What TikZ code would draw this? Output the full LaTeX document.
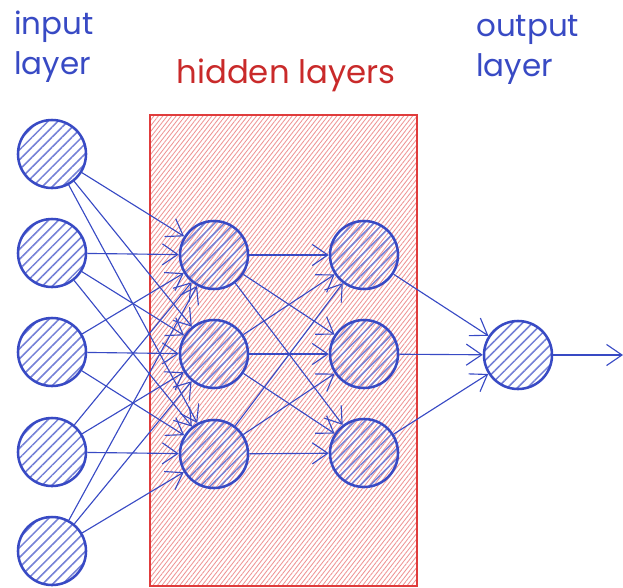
\documentclass[tikz,border=0pt]{standalone}
\usepackage{fontspec}
\setmainfont{Poppins}
\usetikzlibrary{arrows.meta, patterns.meta}

\definecolor{nnblue}{RGB}{56,74,196}
\definecolor{nnred}{RGB}{201,42,42}
\definecolor{boxred}{RGB}{224,60,60}

\begin{document}
\begin{tikzpicture}[
        x=0.025cm, y=-0.025cm,
        >={Straight Barb[length=11pt, width=15pt]},
        neuron/.style={circle, draw=nnblue, line width=1.8pt,
                minimum size=1.7cm, inner sep=0pt,
                pattern={Lines[angle=45, distance=5pt, line width=1.1pt]},
                pattern color=nnblue!70},
        link/.style={->, draw=nnblue, line width=0.8pt},
        caption/.style={align=left, text=nnblue, font=\fontsize{22}{28}\selectfont,
                inner sep=0pt}
    ]
    \useasboundingbox (0,0) rectangle (623,587);

    % hidden block
    \draw[boxred, line width=0.8pt,
        pattern={Lines[angle=52, distance=2.5pt, line width=0.6pt]},
        pattern color=boxred!55] (150,115) rectangle (417,586);

    % input layer
    \node[neuron] (in1) at (52,154) {};
    \node[neuron] (in2) at (52,253) {};
    \node[neuron] (in3) at (52,352) {};
    \node[neuron] (in4) at (52,452) {};
    \node[neuron] (in5) at (52,551) {};

    % hidden layers
    \node[neuron] (ha1) at (214,255) {};
    \node[neuron] (ha2) at (214,354) {};
    \node[neuron] (ha3) at (214,454) {};
    \node[neuron] (hb1) at (364,255) {};
    \node[neuron] (hb2) at (364,354) {};
    \node[neuron] (hb3) at (364,453) {};

    % output layer
    \node[neuron] (out) at (518,355) {};
    \coordinate (y) at (623,355);

    \foreach \i in {1,...,5}
        \foreach \j in {1,2,3}
            \draw[link] (in\i) -- (ha\j);
    \foreach \i in {1,2,3}
        \foreach \j in {1,2,3}
            \draw[link] (ha\i) -- (hb\j);
    \foreach \i in {1,2,3}
        \draw[link] (hb\i) -- (out);
    \draw[link] (out) -- (y);

    % labels (base anchor sits on the last line)
    \node[caption, anchor=base west] (inlabel) at (14,74) {input\\layer};
    \node[caption, anchor=base west] (outlabel) at (476,76) {output\\layer};
    \node[caption, text=nnred, font=\fontsize{23}{28}\selectfont, anchor=base]
        (hidlabel) at (286,83) {hidden layers};
\end{tikzpicture}
\end{document}
